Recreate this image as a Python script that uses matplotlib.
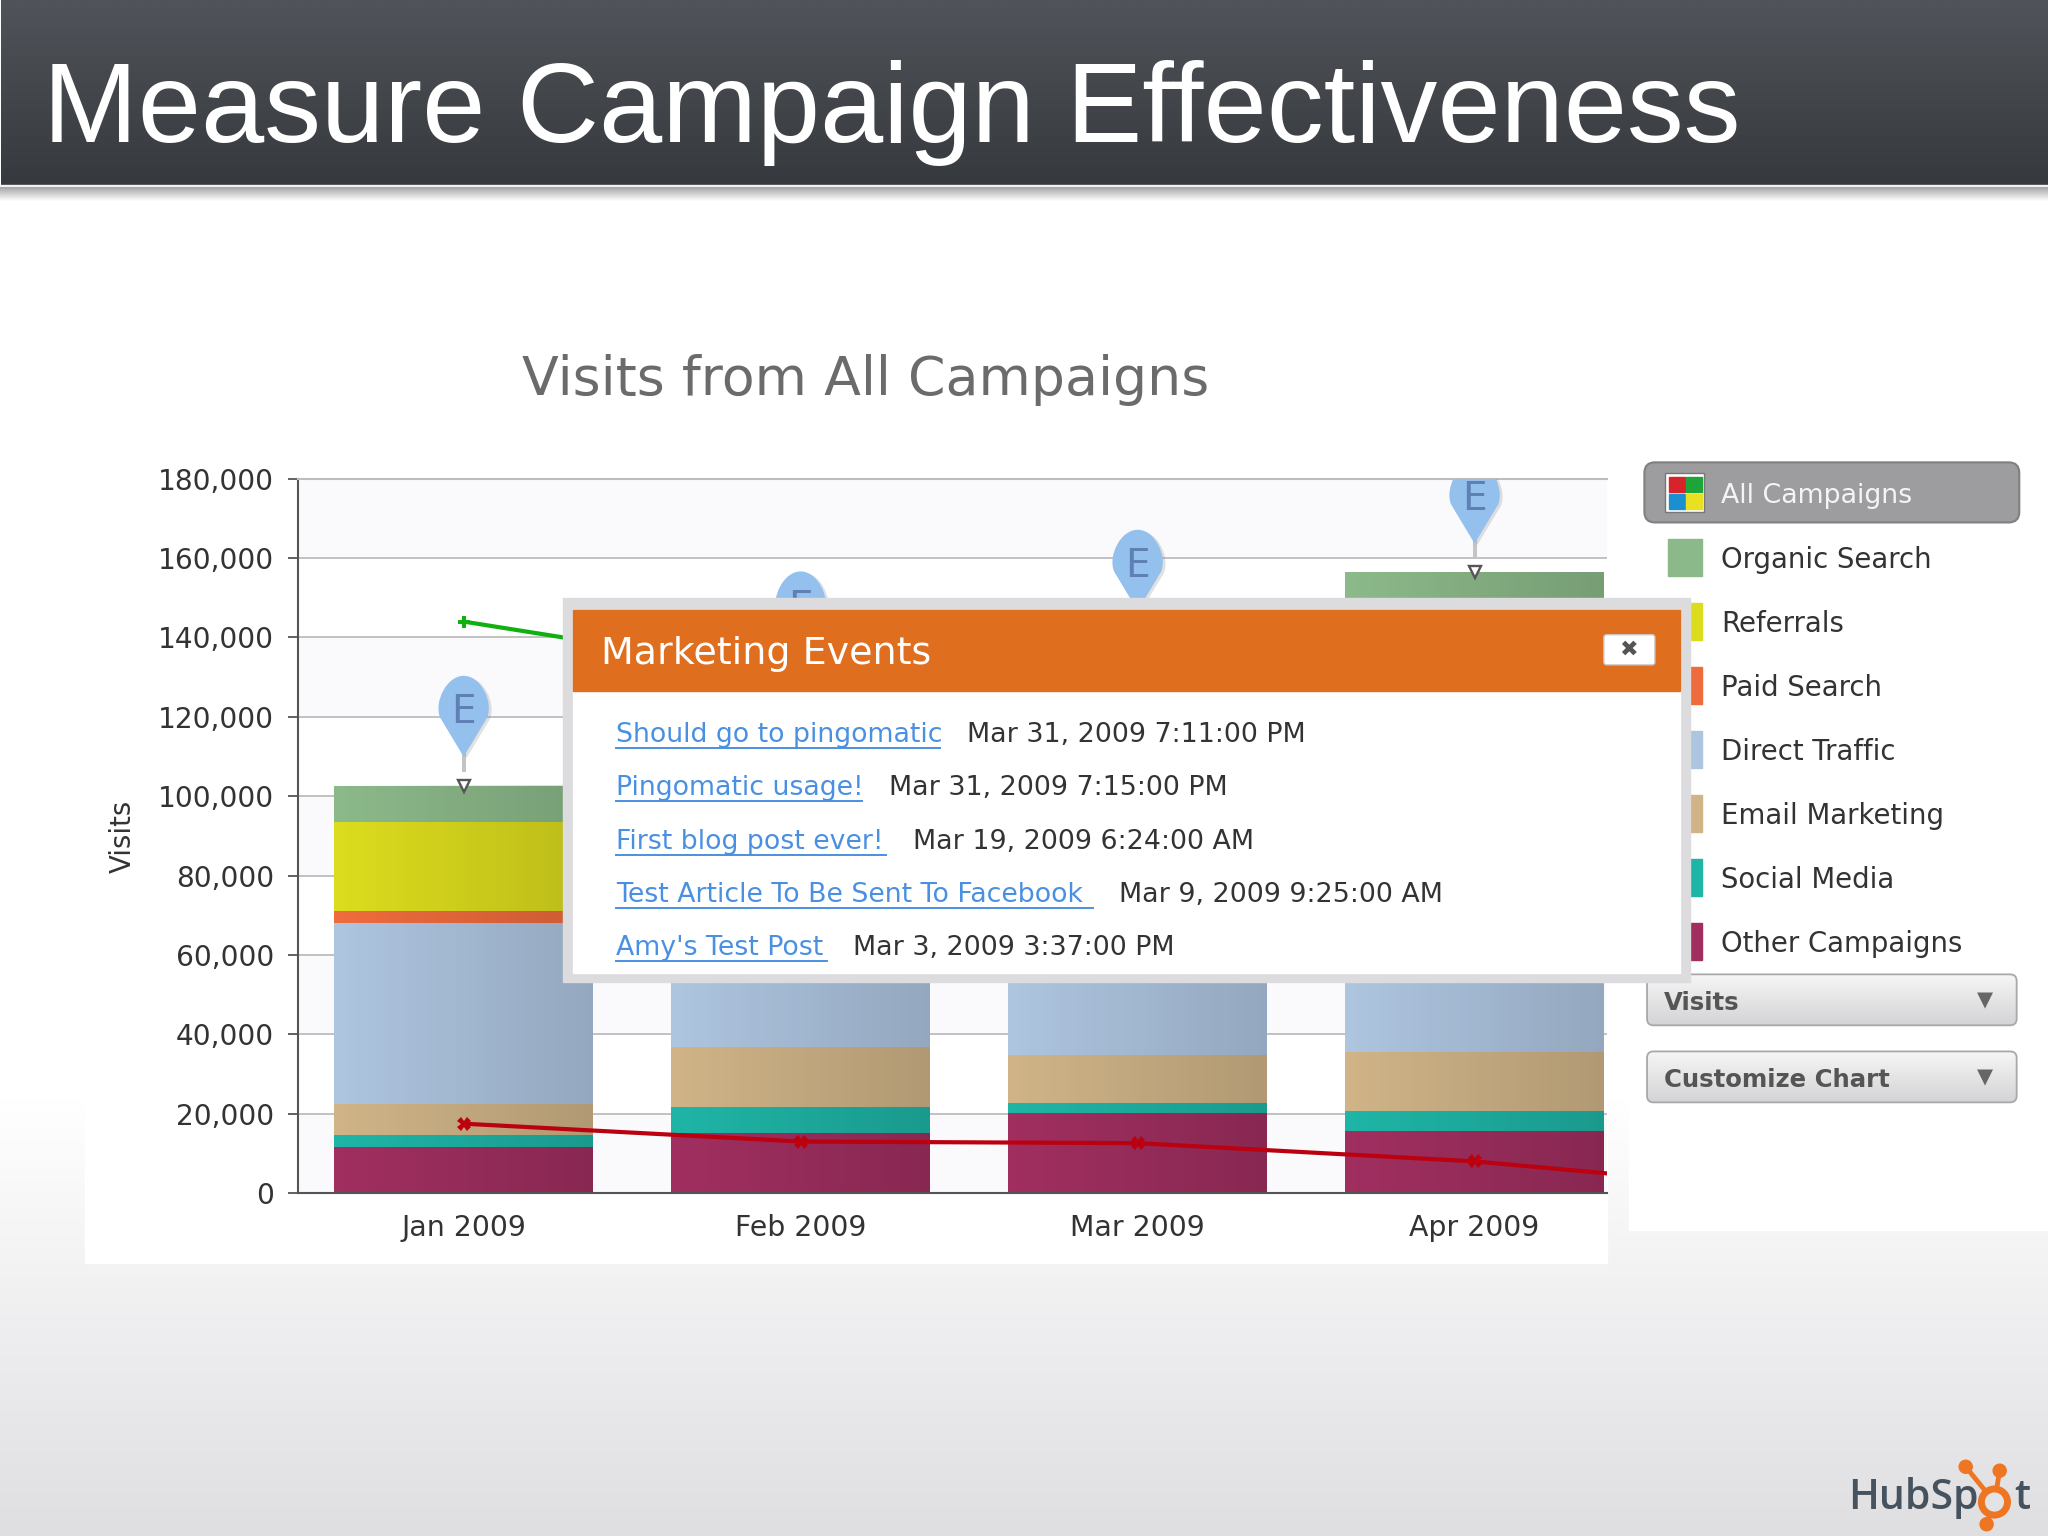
import numpy as np
import matplotlib
matplotlib.use("Agg")
import matplotlib.pyplot as plt
import matplotlib.patheffects as pe
from matplotlib.colors import to_rgb
from matplotlib.patches import Rectangle, FancyBboxPatch, Circle
from matplotlib.path import Path
from matplotlib.ticker import FuncFormatter

# Data
months = ["Jan 2009", "Feb 2009", "Mar 2009", "Apr 2009"]
y_ticks = [0, 20000, 40000, 60000, 80000, 100000, 120000, 140000, 160000, 180000]

other = [11500, 15200, 20200, 15700]
social = [3100, 6600, 2600, 5000]
email = [7800, 14900, 12100, 14900]
direct = [45600, 50000, 58000, 62000]
paid = [3000, 3000, 3000, 4000]
referrals = [22600, 28000, 30000, 40000]
organic = [9100, 11300, 13600, 14800]

series_names = ["Organic Search", "Referrals", "Paid Search", "Direct Traffic",
                "Email Marketing", "Social Media", "Other Campaigns"]
series_colors = ["#8cb98a", "#dcdc1e", "#ee6b3e", "#aec5e0", "#d0b488", "#1fb5a6", "#a02f60"]

# the lines run on past the last month and get cut off by the axes
green_line = [144000, 130500, 125000, 118000, 110000]
red_line = [17500, 13000, 12600, 8000, 300]

event_links = ["Should go to pingomatic", "Pingomatic usage!", "First blog post ever!",
               "Test Article To Be Sent To Facebook", "Amy's Test Post"]
event_dates = ["Mar 31, 2009 7:11:00 PM", "Mar 31, 2009 7:15:00 PM", "Mar 19, 2009 6:24:00 AM",
               "Mar 9, 2009 9:25:00 AM", "Mar 3, 2009 3:37:00 PM"]
link_ends = [720, 660, 678, 837, 633]
date_starts = [740, 681, 699, 857, 653]

W, H = 1568, 1176
FS = 19.3


def vgrad(ax, x0, x1, y0, y1, top, bottom, clip=None, zorder=1):
    c = np.linspace(to_rgb(top), to_rgb(bottom), 128).reshape(128, 1, 3)
    im = ax.imshow(c, extent=(x0, x1, y1, y0), aspect="auto", zorder=zorder, interpolation="bilinear")
    if clip is not None:
        im.set_clip_path(clip)
    return im


fig = plt.figure(figsize=(20.48, 15.36), dpi=100)

# Slide background
bg = fig.add_axes([0, 0, 1, 1], zorder=0)
bg.set_axis_off()
bg.add_patch(Rectangle((0, 0), W, H, color="white", zorder=0))
vgrad(bg, 0, W, 840, H, "#ffffff", "#dfdfe2")
vgrad(bg, 1, W, 1, 142, "#505359", "#36393d", zorder=2)
bg.add_patch(Rectangle((0, 142), W, 2, color="#f2f2f2", zorder=2))
vgrad(bg, 0, W, 144, 154, "#a4a4a4", "#ffffff", zorder=2)
bg.add_patch(Rectangle((65, 700), 1165, 267, color="white", zorder=1.5))
bg.add_patch(Rectangle((1247, 700), 321, 242, color="white", zorder=1.5))
bg.set_xlim(0, W)
bg.set_ylim(H, 0)
bg.text(33, 108.6, "Measure Campaign Effectiveness", color="white", fontsize=81.8,
        family="Liberation Sans", va="baseline", ha="left", zorder=3)

# Chart
ax = fig.add_axes([228 / W, 1 - 913.5 / H, 1002 / W, 547 / H], zorder=1)
ax.set_facecolor("white")
# alternating plot bands between the gridlines
for lo, hi in zip(y_ticks[0::2], y_ticks[1::2]):
    ax.axhspan(lo, hi, color="#fafafc", lw=0, zorder=0)

x = np.arange(len(months))
bar_w = 0.767
stack = [other, social, email, direct, paid, referrals, organic]
bottoms = np.zeros(len(months))
for vals, col in zip(stack, series_colors[::-1]):
    ax.bar(x, vals, bar_w, bottom=bottoms, color=col, zorder=2)
    bottoms += np.array(vals)

# bars get darker to the right
shade = np.zeros((1, 64, 4))
shade[0, :, 3] = np.linspace(0, 0.15, 64)
for i in x:
    ax.imshow(shade, extent=(i - bar_w / 2, i + bar_w / 2, 0, bottoms[i]), aspect="auto",
              zorder=2.5, interpolation="bilinear")

line_x = np.arange(len(green_line))
ax.plot(line_x, green_line, color="#10b010", lw=3, marker="P", ms=9, mew=0, zorder=4)
ax.plot(line_x, red_line, color="#bb0010", lw=3, marker="X", ms=10, mew=0, zorder=4)

# event pins, drawn with the tip above the top of each bar
pin = Path([(0, 22), (-18, 52), (-23, 64), (-13, 84), (0, 84), (13, 84), (23, 64), (18, 52), (0, 22)],
           [Path.MOVETO, Path.LINETO, Path.CURVE4, Path.CURVE4, Path.CURVE4,
            Path.CURVE4, Path.CURVE4, Path.CURVE4, Path.LINETO])
ax.plot(x, bottoms, ls="none", marker=pin, ms=168 * 1.306 * 0.72, mfc="#93c0ec", mew=0, zorder=6,
        path_effects=[pe.SimplePatchShadow(offset=(2, -1), shadow_rgbFace="#888888", alpha=0.25), pe.Normal()])
stem = Path([(-1.5, 11), (1.5, 11), (1.5, 25), (-1.5, 25), (-1.5, 11)])
ax.plot(x, bottoms, ls="none", marker=stem, ms=50 * 1.306 * 0.72, mfc="#c4c4c4", mew=0, zorder=5)
ax.plot(x, bottoms, ls="none", marker="v", ms=8.5, mfc="white", mec="#555555", mew=1.7, zorder=6)
for i in x:
    ax.annotate("E", (i, bottoms[i]), xytext=(0, 53), textcoords="offset points", ha="center",
                va="center", fontsize=28, color="#5f80b5", zorder=7, annotation_clip=False)

ax.set_xlim(-127 / 258, 3 + 101 / 258)
ax.set_ylim(0, 180000)
ax.set_xticks(x)
ax.set_xticklabels(months)
ax.set_yticks(y_ticks)
ax.yaxis.set_major_formatter(FuncFormatter(lambda v, p: f"{int(v):,}"))
ax.tick_params(axis="y", length=7, width=1.3, color="#555555", labelsize=20.2, labelcolor="#333333", pad=10)
ax.tick_params(axis="x", length=0, labelsize=20.4, labelcolor="#333333", pad=15)
ax.grid(axis="y", color="#bdbdc0", lw=1.3, zorder=1)
ax.set_axisbelow(True)
ax.spines["right"].set_visible(False)
ax.spines["top"].set_color("#bdbdc0")
ax.spines["top"].set_linewidth(1.5)
ax.spines["left"].set_color("#555555")
ax.spines["left"].set_linewidth(1.5)
ax.spines["bottom"].set_color("#555555")
ax.spines["bottom"].set_linewidth(1.5)

# Overlay for everything outside the plot area
ov = fig.add_axes([0, 0, 1, 1], zorder=2)
ov.set_axis_off()
ov.patch.set_visible(False)

ov.text(663, 291, "Visits from All Campaigns", fontsize=38.7, color="#6b6b6b", ha="center", va="center")
ov.text(94, 640, "Visits", fontsize=FS + 0.5, color="#333333", rotation=90, ha="center", va="center")

# Legend panel
btn = FancyBboxPatch((1263, 358), 279, 38, boxstyle="round,pad=4,rounding_size=8", fc="#9d9d9f",
                     ec="#808082", lw=1.5, zorder=2)
ov.add_patch(btn)
ov.add_patch(Rectangle((1275, 362), 30, 30, fc="white", ec="#777777", lw=1, zorder=3))
for (qx, qy), qc in zip([(1278, 365), (1291, 365), (1278, 378), (1291, 378)],
                        ["#d8232a", "#1ea53a", "#1c8fd0", "#e8e020"]):
    ov.add_patch(Rectangle((qx, qy), 12, 12, color=qc, zorder=4))
ov.text(1318, 379.5, "All Campaigns", fontsize=FS, color="#f4f4f4", va="center", zorder=4)
for i, (name, col) in enumerate(zip(series_names, series_colors)):
    yy = 427 + 49 * i
    ov.add_patch(Rectangle((1277, yy - 14), 26, 28, color=col, zorder=2))
    ov.text(1318, yy + 1.5, name, fontsize=19.8, color="#333333", va="center", zorder=3)

for label, y0 in [("Visits", 746), ("Customize Chart", 805)]:
    p = FancyBboxPatch((1264, y0 + 3), 277, 33, boxstyle="round,pad=3,rounding_size=5", fc="none",
                       ec="#a8a8a8", lw=1.3, zorder=3)
    ov.add_patch(p)
    vgrad(ov, 1261, 1544, y0, y0 + 39, "#f6f6f6", "#d4d4d6", clip=p, zorder=2)
    ov.text(1274, y0 + 22, label, fontsize=17.6, color="#555555", fontweight="bold", va="center", zorder=4)
    ov.text(1520, y0 + 20, "\u25bc", fontsize=15, color="#666666", ha="center", va="center", zorder=4)

# Marketing events popup
ov.add_patch(Rectangle((431, 458), 863, 294, color="#dcdcde", zorder=8))
ov.add_patch(Rectangle((439, 467), 847, 278, color="white", zorder=9))
ov.add_patch(Rectangle((439, 467), 847, 62, color="#e06e1f", zorder=10))
ov.text(460, 500.5, "Marketing Events", fontsize=27.4, color="white", va="center", zorder=11)
ov.add_patch(FancyBboxPatch((1230, 488), 35, 19, boxstyle="round,pad=2,rounding_size=2", fc="white",
                            ec="#cccccc", lw=1, zorder=11))
ov.text(1247, 497.5, "\u2716", fontsize=16, color="#555555", ha="center", va="center", zorder=12)
for i in range(len(event_links)):
    yy = 562.5 + 40.9 * i
    ov.text(472, yy, event_links[i], fontsize=FS, color="#4a90e2", va="center", zorder=11)
    ov.plot([472, link_ends[i]], [yy + 10, yy + 10], color="#4a90e2", lw=1.4, zorder=11)
    ov.text(date_starts[i], yy, event_dates[i], fontsize=19.35, color="#333333", va="center", zorder=11)

# HubSpot logo
ov.text(1415, 1155, "HubSp", fontsize=29.5, fontweight=600, color="#46535f", family="Open Sans",
        va="baseline", zorder=3)
ov.text(1542, 1155, "t", fontsize=29.5, fontweight=600, color="#46535f", family="Open Sans",
        va="baseline", zorder=3)
orange = "#ee7623"
rc = (1527, 1150)
for px, py in [(1505, 1123), (1531, 1126), (1521, 1167)]:
    ov.plot([rc[0], px], [rc[1], py], color=orange, lw=3.5, zorder=4)
    ov.add_patch(Circle((px, py), 5, color=orange, zorder=4))
ov.add_patch(Circle(rc, 10, fc="#e3e3e6", ec=orange, lw=5, zorder=5))

ov.set_xlim(0, W)
ov.set_ylim(H, 0)

fig.savefig("out.png", dpi=100)
